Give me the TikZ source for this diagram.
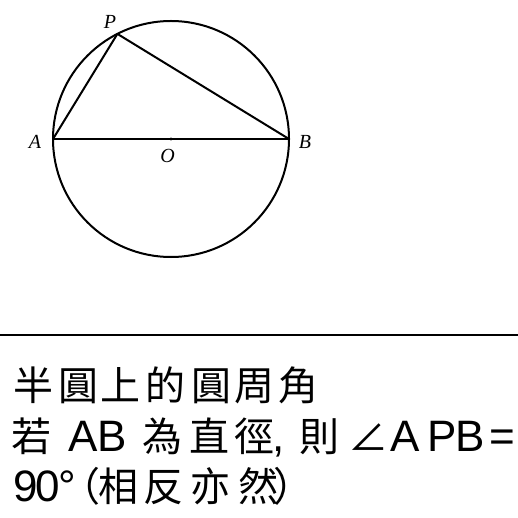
\documentclass[tikz,border=0pt]{standalone}
\usepackage{fontspec}
\setmainfont{Liberation Serif}
\newfontfamily\cjkfam{Noto Sans CJK TC}
\newfontfamily\lsansfam{Liberation Sans}
\newcommand\cj{\cjkfam\fontsize{40}{40}\selectfont}
\newcommand\la{\lsansfam\fontsize{44}{44}\selectfont}
% place content with its origin at x
\newcommand\putat[2]{\rlap{\hskip#1\relax#2}}
% place content centred on x
\newcommand\putc[2]{\rlap{\hskip#1\relax\hbox to 0pt{\hss#2\hss}}}
\begin{document}
\begin{tikzpicture}[x=1pt,y=-1pt,
  geo/.style={line width=2pt},
  ptlabel/.style={font=\fontsize{20}{20}\selectfont\itshape, inner sep=0pt},
  caption/.style={anchor=base west, inner sep=0pt}]
\useasboundingbox (0,0) rectangle (518,518);
\fill[white] (0,0) rectangle (518,518);
\coordinate (O) at (171,139);
\coordinate (A) at (53,139);
\coordinate (B) at (289,139);
\coordinate (P) at (117.4,33.9);
\draw[geo] (O) circle[radius=118pt];
\draw[geo] (A) -- (B);
\draw[geo,line join=round] (A) -- (P) -- (B);
\fill (O) circle[radius=1.7pt];
\node[ptlabel] (lP) at (110,22) {P};
\node[ptlabel] (lA) at (35,142) {A};
\node[ptlabel] (lB) at (305,142) {B};
\node[ptlabel] (lO) at (167.5,156) {O};
\coordinate (L) at (0,335);
\coordinate (R) at (518,335);
\draw[line width=2.2pt] (L) -- (R);
\node[caption] (t1) at (0,400) {\cj
  \putc{32.5pt}{半}\putc{77.5pt}{圓}\putc{120pt}{上}\putc{164.5pt}{的}%
  \putc{211pt}{圓}\putc{253.5pt}{周}\putc{297.5pt}{角}};
\node[caption] (t2) at (0,451) {%
  \cj\putc{31pt}{若}%
  \la\putat{68pt}{A}\putat{97pt}{B}%
  \cj\putc{161.5pt}{為}\putc{208.3pt}{直}\putc{254pt}{徑}%
  \la\putat{272pt}{,}%
  \cj\putc{319pt}{則}\putc{368pt}{∠}%
  \la\putat{390pt}{A}\putat{426.7pt}{P}\putat{455pt}{B}\putat{489pt}{=}};
\node[caption] (t3) at (0,501) {%
  \la\putat{13.3pt}{9}\putat{35pt}{0}\putat{58pt}{°}%
  \cj\putc{79.5pt}{（}\putc{117.5pt}{相}\putc{163.3pt}{反}\putc{210pt}{亦}%
  \putc{258.3pt}{然}\putc{293pt}{）}};
\end{tikzpicture}
\end{document}
